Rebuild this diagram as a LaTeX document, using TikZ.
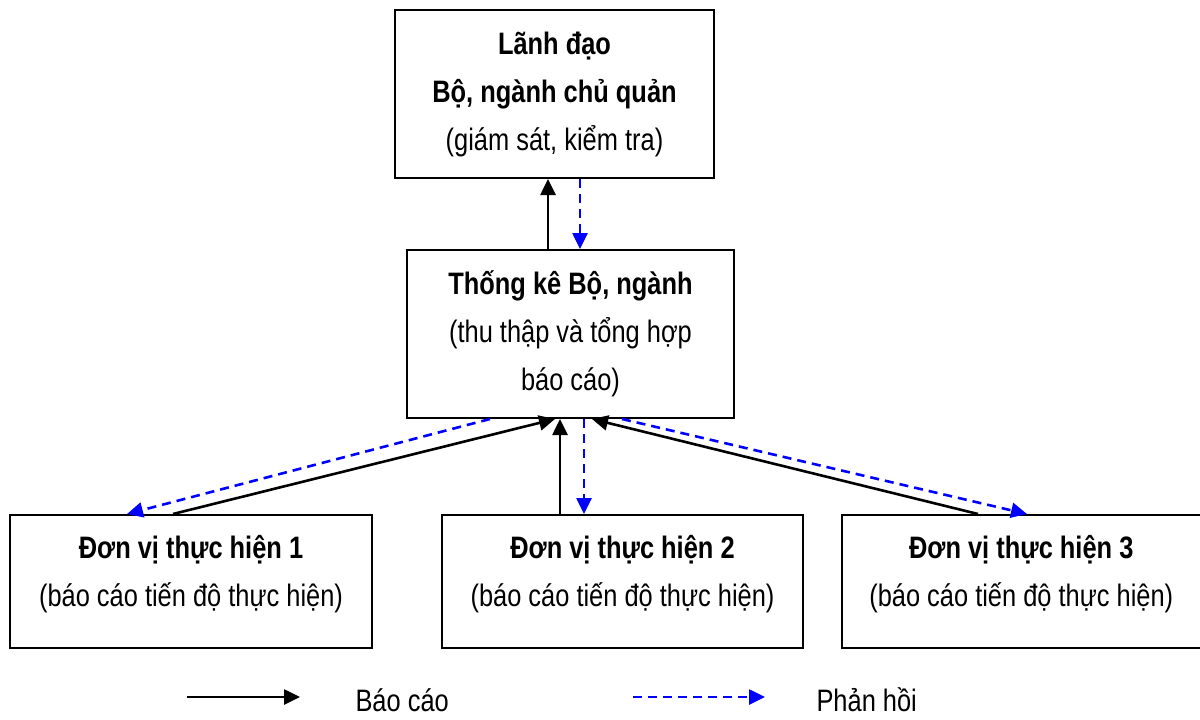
\documentclass[tikz,border=0pt]{standalone}
\usepackage{fontspec}
\setmainfont{Liberation Sans}[FakeStretch=0.82]
\usetikzlibrary{arrows.meta}
\begin{document}
\begin{tikzpicture}[x=1pt,y=-1pt,
  box/.style={draw=black,line width=2pt,rectangle,inner sep=0pt,align=center,
    font=\fontsize{31}{48}\selectfont},
  rep/.style={draw=black,line width=2.6pt,-{Triangle[length=16pt,width=15pt]}},
  fb/.style={draw=blue,line width=2.6pt,dash pattern=on 9pt off 6pt,-{Triangle[length=16pt,width=15pt]}},
  leg/.style={font=\fontsize{31}{36}\selectfont,anchor=west}]
\useasboundingbox (0,0) rectangle (1200,720);
\node[box,minimum width=319pt,minimum height=168pt] (top) at (554.5,94)
  {\textbf{Lãnh đạo}\\\textbf{Bộ, ngành chủ quản}\\(giám sát, kiểm tra)};
\node[box,minimum width=327pt,minimum height=168pt] (mid) at (570.5,334)
  {\textbf{Thống kê Bộ, ngành}\\(thu thập và tổng hợp\\báo cáo)};
\node[box,minimum width=362pt,minimum height=133pt] (b1) at (191,581.5)
  {\textbf{Đơn vị thực hiện 1}\\(báo cáo tiến độ thực hiện)\rule[-21pt]{0pt}{0pt}};
\node[box,minimum width=361pt,minimum height=133pt] (b2) at (622.5,581.5)
  {\textbf{Đơn vị thực hiện 2}\\(báo cáo tiến độ thực hiện)\rule[-21pt]{0pt}{0pt}};
\node[box,minimum width=358.5pt,minimum height=133pt] (b3) at (1021.25,581.5)
  {\textbf{Đơn vị thực hiện 3}\\(báo cáo tiến độ thực hiện)\rule[-21pt]{0pt}{0pt}};
% top <-> mid
\draw[rep] ([xshift=-22.5pt]mid.north) -- ([xshift=-6.5pt]top.south);
\draw[fb] ([xshift=25.5pt]top.south) -- ([xshift=9.5pt]mid.north);
% mid <-> bottom
\draw[rep] ([xshift=-18pt]b1.north) -- ([xshift=-15.5pt]mid.south);
\draw[fb] ([xshift=-80.5pt]mid.south) -- ([xshift=-64pt]b1.north);
\draw[rep] ([xshift=-62.5pt]b2.north) -- ([xshift=-10.5pt]mid.south);
\draw[fb] ([xshift=13.5pt]mid.south) -- ([xshift=-38.5pt]b2.north);
\draw[rep] ([xshift=-43.25pt]b3.north) -- ([xshift=21.5pt]mid.south);
\draw[fb] ([xshift=51.5pt]mid.south) -- ([xshift=5.75pt]b3.north);
% legend
\coordinate (l1a) at (187,697);
\coordinate (l1b) at (300,697);
\coordinate (l2a) at (633,697);
\coordinate (l2b) at (765,697);
\draw[rep] (l1a) -- (l1b);
\draw[fb] (l2a) -- (l2b);
\node[leg] (t1) at (352,700) {Báo cáo};
\node[leg] (t2) at (813,700) {Phản hồi};
\end{tikzpicture}
\end{document}
